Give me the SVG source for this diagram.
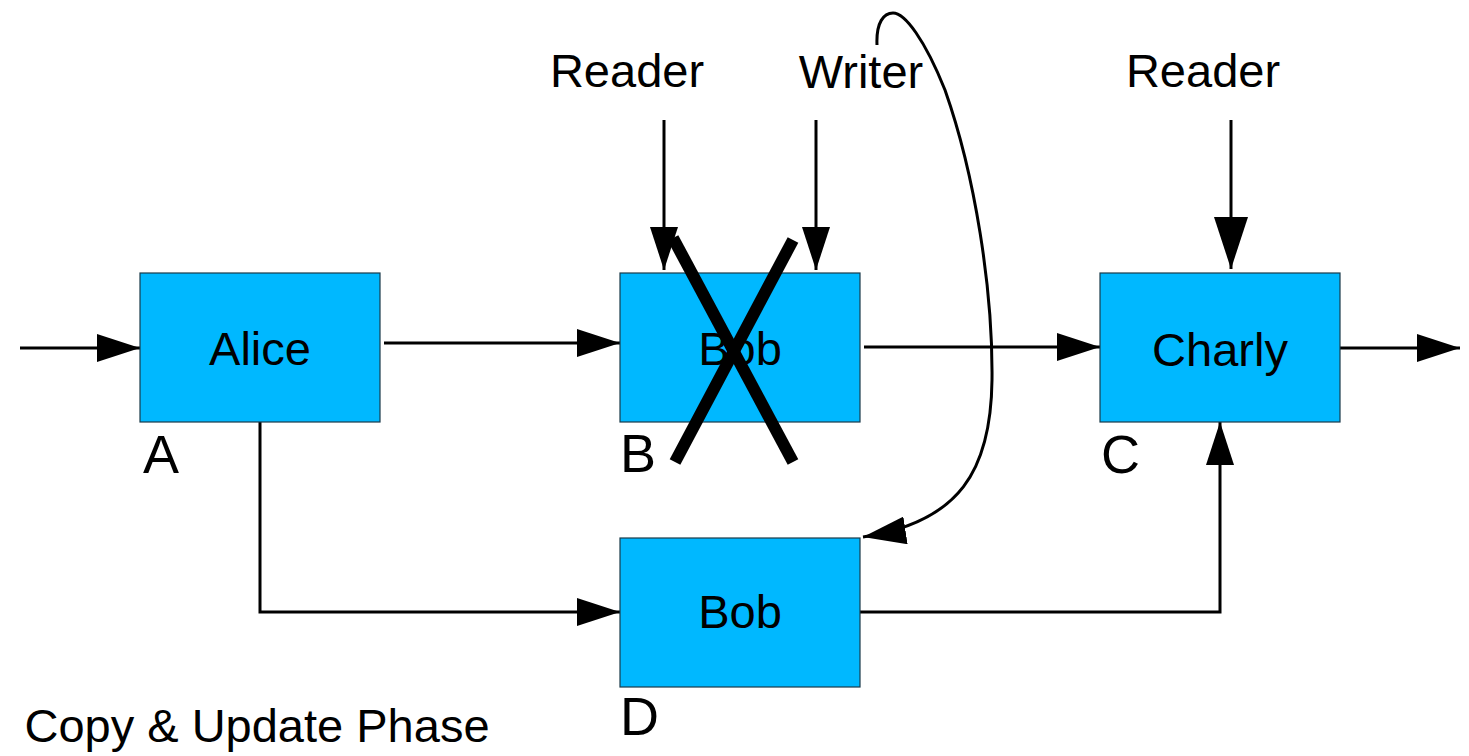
<svg xmlns="http://www.w3.org/2000/svg" width="1469" height="756" viewBox="0 0 1469 756">
<style>
.box{fill:#00b8ff;stroke:#1a3a4a;stroke-width:1.2}
.t{font-family:"Liberation Sans",Arial,sans-serif;font-size:47px;fill:#000;text-anchor:middle}
.lbl{font-family:"Liberation Sans",Arial,sans-serif;font-size:54px;fill:#000}
.c{fill:none;stroke:#000;stroke-width:3}
.x{fill:none;stroke:#000;stroke-width:12}
</style>
<defs>
<marker id="ah" markerUnits="userSpaceOnUse" markerWidth="43" markerHeight="28" refX="43" refY="14" orient="auto">
<path d="M0,0 L43,14 L0,28 z" fill="#000"/>
</marker>
<marker id="ahb" markerUnits="userSpaceOnUse" markerWidth="52" markerHeight="34" refX="52" refY="17" orient="auto">
<path d="M0,0 L52,17 L0,34 z" fill="#000"/>
</marker>
</defs>
<rect width="1469" height="756" fill="#fff"/>
<g id="connectors">
<line class="c" x1="20" y1="348" x2="140" y2="348" marker-end="url(#ah)"/>
<line class="c" x1="384" y1="343" x2="620" y2="343" marker-end="url(#ah)"/>
<line class="c" x1="864" y1="347" x2="1100" y2="347" marker-end="url(#ah)"/>
<line class="c" x1="1340" y1="348" x2="1460" y2="348" marker-end="url(#ah)"/>
<polyline class="c" points="260,422 260,612 620,612" marker-end="url(#ah)"/>
<polyline class="c" points="860,612 1220,612 1220,422" marker-end="url(#ah)"/>
<line class="c" x1="664" y1="120" x2="664" y2="270" marker-end="url(#ah)"/>
<line class="c" x1="816" y1="120" x2="816" y2="270" marker-end="url(#ah)"/>
<line class="c" x1="1231" y1="120" x2="1231" y2="269" marker-end="url(#ahb)"/>
<path class="c" d="M877,45 C876,22 884,13 893,13 C905,13 925,40 945,90 C975,175 993,290 992,380 C991,470 960,522 863,537" marker-end="url(#ah)"/>
</g>
<g id="alice">
<rect class="box" x="140" y="273" width="240" height="149"/>
<text class="t" x="260" y="365">Alice</text>
<text class="lbl" x="143" y="473">A</text>
</g>
<g id="bob-b">
<rect class="box" x="620" y="273" width="240" height="149"/>
<text class="t" x="740" y="365">Bob</text>
<text class="lbl" x="620" y="472">B</text>
<line class="x" x1="673" y1="238" x2="793" y2="462"/>
<line class="x" x1="793" y1="240" x2="675" y2="462"/>
</g>
<g id="charly">
<rect class="box" x="1100" y="273" width="240" height="149"/>
<text class="t" x="1220" y="366">Charly</text>
<text class="lbl" x="1101" y="473">C</text>
</g>
<g id="bob-d">
<rect class="box" x="620" y="538" width="240" height="149"/>
<text class="t" x="740" y="628">Bob</text>
<text class="lbl" x="620" y="735">D</text>
</g>
<g id="reader1"><text class="t" x="627" y="87">Reader</text></g>
<g id="writer"><text class="t" x="861" y="88">Writer</text></g>
<g id="reader2"><text class="t" x="1203" y="87">Reader</text></g>
<g id="caption"><text class="t" x="257" y="742">Copy &amp; Update Phase</text></g>
</svg>
